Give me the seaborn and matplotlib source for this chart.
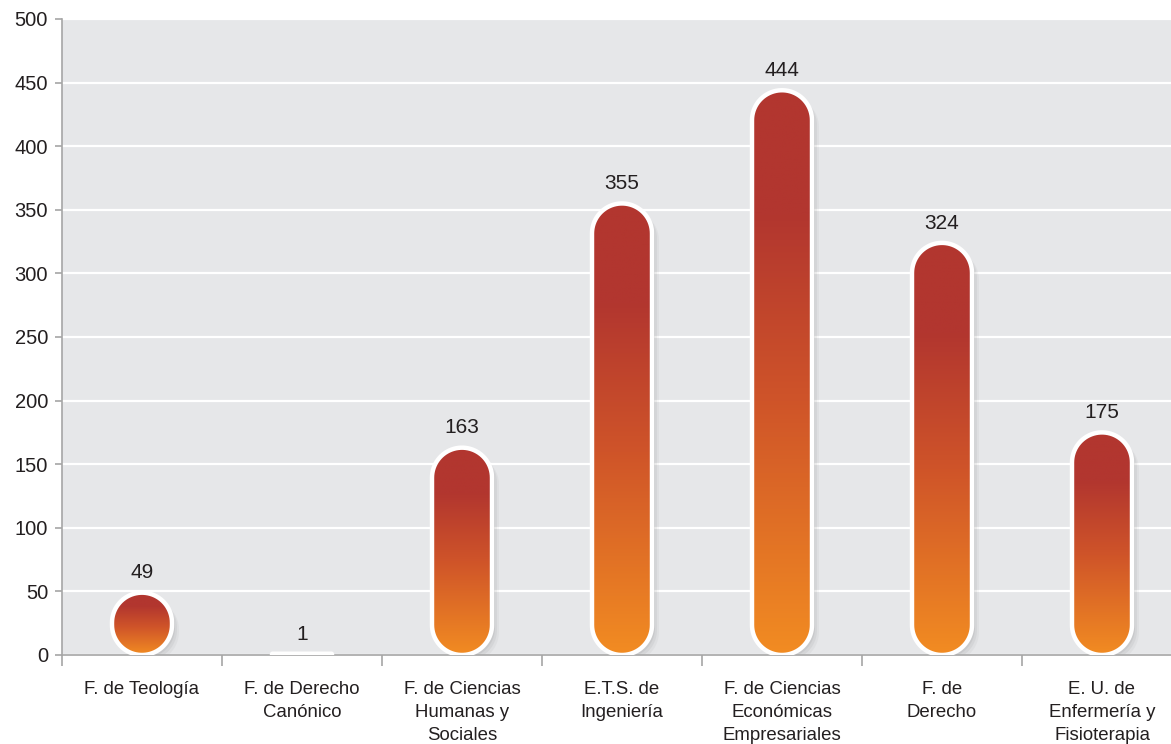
import numpy as np
import matplotlib
matplotlib.use("Agg")
import matplotlib.pyplot as plt
from matplotlib.colors import LinearSegmentedColormap
from matplotlib.patches import Polygon
import seaborn as sns

# datos
facultades = ["F. de Teología", "F. de Derecho\nCanónico", "F. de Ciencias\nHumanas y\nSociales",
              "E.T.S. de\nIngeniería", "F. de Ciencias\nEconómicas\nEmpresariales",
              "F. de\nDerecho", "E. U. de\nEnfermería y\nFisioterapia"]
valores = [49, 1, 163, 355, 444, 324, 175]
yticks = [0, 50, 100, 150, 200, 250, 300, 350, 400, 450, 500]

sns.set_theme(style="white")
plt.rcParams["font.family"] = ["Liberation Sans", "DejaVu Sans"]

BG = "#e6e7e9"
ROJO = "#b2362f"
NARANJA = "#f28c22"
GRIS = "#a6a6a6"
TEXTO = "#231f20"

fig = plt.figure(figsize=(11.71, 7.44), dpi=100)
ax = fig.add_axes([62 / 1171, 89 / 744, 1120 / 1171, 636 / 744])
ax.set_facecolor(BG)

sns.barplot(x=facultades, y=valores, width=0.375, ax=ax, color=ROJO)
ax.set_xlim(-0.5, len(facultades) - 0.5)
ax.set_ylim(0, 500)
ax.set_yticks(yticks)
ax.yaxis.grid(True, color="white", linewidth=1.6)
ax.set_axisbelow(True)

cmap = LinearSegmentedColormap.from_list("grad", [(0, ROJO), (0.22, ROJO), (0.55, "#cf5429"), (1, NARANJA)])
grad = np.linspace(0, 1, 256).reshape(-1, 1)

def capsula(x0, x1, y0, y1, dx=0, dy=0):
    # contorno redondeado en pixeles -> datos
    (px0, py0), (px1, py1) = ax.transData.transform([(x0, y0), (x1, y1)])
    px0 += dx; px1 += dx; py0 += dy; py1 += dy
    r = min((px1 - px0) / 2, (py1 - py0) / 2)
    cx = (px0 + px1) / 2
    pts = []
    t = np.linspace(0, np.pi, 40)
    w = (px1 - px0) / 2 - r
    for a in t:
        pts.append((cx + w + r * np.cos(a) if a < np.pi / 2 else cx - w + r * np.cos(a), py1 - r + r * np.sin(a)))
    for a in t:
        pts.append((cx - w - r * np.cos(a) if a < np.pi / 2 else cx + w - r * np.cos(a), py0 + r - r * np.sin(a)))
    pts = np.array(pts)
    return ax.transData.inverted().transform(pts)

bars = list(ax.patches)
for p, v in zip(bars, valores):
    x0 = p.get_x()
    x1 = x0 + p.get_width()
    p.set_visible(False)
    # sombra
    for k, al in [(7, 0.05), (5, 0.07), (3, 0.09)]:
        sh = Polygon(capsula(x0, x1, 0, v, dx=k, dy=-k), closed=True, facecolor="#555555",
                     edgecolor="none", alpha=al, zorder=2)
        ax.add_patch(sh)
    cap = Polygon(capsula(x0, x1, 0, v), closed=True, facecolor="none", edgecolor="white",
                  linewidth=3.2, zorder=4)
    ax.add_patch(cap)
    im = ax.imshow(grad, cmap=cmap, aspect="auto", extent=(x0, x1, 0, max(v, 0.01)),
                   origin="upper", zorder=3)
    clip = Polygon(capsula(x0, x1, 0, v), closed=True, transform=ax.transData)
    im.set_clip_path(clip)
    ax.text((x0 + x1) / 2, v + 8, str(v), ha="center", va="bottom", fontsize=15, color=TEXTO)

ax.set_xlim(-0.5, len(facultades) - 0.5)
ax.set_ylim(0, 500)
ax.set_aspect("auto")

for s in ["top", "right"]:
    ax.spines[s].set_visible(False)
for s in ["left", "bottom"]:
    ax.spines[s].set_color(GRIS)
    ax.spines[s].set_linewidth(1.2)

ax.set_xticks(np.arange(-0.5, len(facultades)), minor=True)
ax.tick_params(axis="x", which="major", length=0, pad=19, labelsize=13.4, labelcolor=TEXTO)
ax.tick_params(axis="x", which="minor", length=8, width=1.2, color=GRIS, bottom=True)
ax.tick_params(axis="y", length=5, width=1.2, color=GRIS, left=True, pad=5, labelsize=14.5,
               labelcolor=TEXTO)
for t in ax.get_xticklabels():
    t.set_linespacing(1.45)
ax.set_xlabel("")
ax.set_ylabel("")

fig.savefig("out.png", dpi=100)
